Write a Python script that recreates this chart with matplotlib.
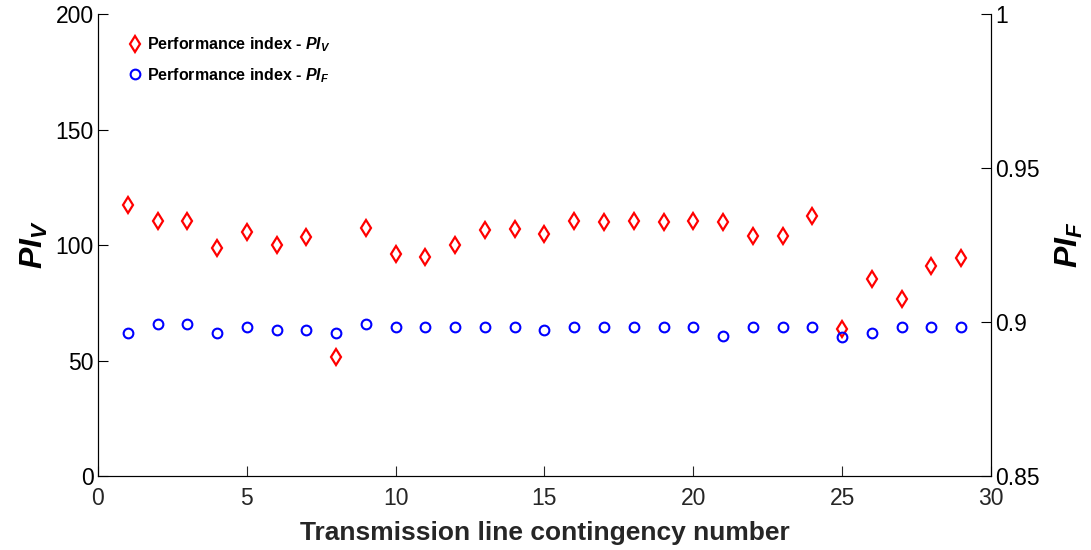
import numpy as np
import matplotlib
matplotlib.use("Agg")
import matplotlib.pyplot as plt

plt.rcParams['font.family'] = 'Liberation Sans'
plt.rcParams['mathtext.fontset'] = 'custom'
plt.rcParams['mathtext.it'] = 'Liberation Sans:italic:bold'
plt.rcParams['mathtext.rm'] = 'Liberation Sans:bold'

# contingency number and the two performance indices
line_no = np.arange(1, 30)
pi_v = [117.5, 110.5, 110.5, 98.5, 105.5, 99.8, 103.5, 51.5, 107.5, 96.0,
        95.0, 99.8, 106.5, 106.8, 104.8, 110.5, 109.8, 110.5, 109.8, 110.5,
        110.0, 103.8, 103.8, 112.5, 63.5, 85.5, 76.5, 91.0, 94.5]
pi_f = [0.8963, 0.8994, 0.8994, 0.8963, 0.8983, 0.8973, 0.8973, 0.8963, 0.8994, 0.8983,
        0.8983, 0.8983, 0.8983, 0.8983, 0.8973, 0.8983, 0.8983, 0.8983, 0.8983, 0.8983,
        0.8955, 0.8983, 0.8983, 0.8983, 0.8953, 0.8963, 0.8983, 0.8983, 0.8983]

fig = plt.figure(figsize=(10.91, 5.5), dpi=100)
ax = fig.add_axes([0.0898, 0.1345, 0.8185, 0.84])
ax2 = ax.twinx()

h1, = ax.plot(line_no, pi_v, 'd', color='red', mfc='none', mew=1.6, ms=8)
h2, = ax2.plot(line_no, pi_f, 'o', color='blue', mfc='none', mew=1.5, ms=7)

ax.set_xlim(0, 30)
ax.set_ylim(0, 200)
ax2.set_ylim(0.85, 1.0)
ax.set_xticks([0, 5, 10, 15, 20, 25, 30])
ax.set_yticks([0, 50, 100, 150, 200])
ax2.set_yticks([0.85, 0.9, 0.95, 1.0])
ax2.set_yticklabels(['0.85', '0.9', '0.95', '1'])

for a in (ax, ax2):
    a.spines['top'].set_visible(False)
    a.tick_params(direction='in', length=7, width=0.8, labelsize=16.5)
ax.spines['bottom'].set_color('#262626')
ax.tick_params(axis='x', colors='#262626', pad=8)
ax.tick_params(axis='y', colors='black', pad=3)
ax2.tick_params(axis='y', pad=3)

ax.set_xlabel('Transmission line contingency number', fontsize=19,
              fontweight='bold', color='#262626', labelpad=8)
ax.set_ylabel('$PI_V$', fontsize=23, labelpad=4)
ax2.set_ylabel('$PI_F$', fontsize=23, labelpad=10)

ax.legend([h1, h2], ['Performance index - $PI_V$', 'Performance index - $PI_F$'],
          loc='upper left', frameon=False, prop={'weight': 'bold', 'size': 11.5},
          handletextpad=0.1, handlelength=1.2, labelspacing=0.75,
          bbox_to_anchor=(0.015, 0.985))

fig.savefig('out.png', dpi=100)
